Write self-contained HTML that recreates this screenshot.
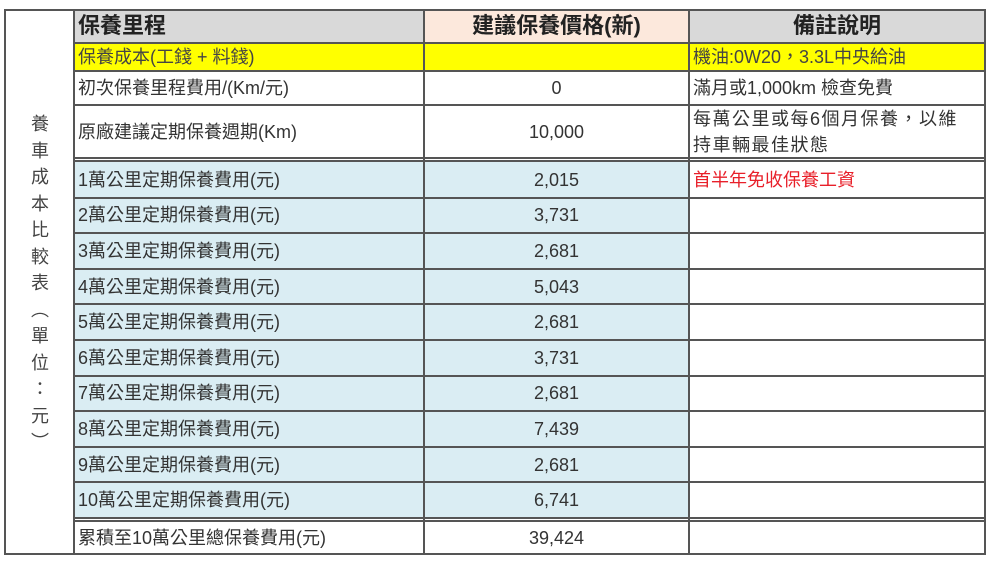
<!DOCTYPE html>
<html><head><meta charset="utf-8"><style>
body{margin:0;width:990px;height:564px;background:#fff;position:relative;overflow:hidden;font-family:"Liberation Sans","Noto Sans CJK TC",sans-serif;color:#333}
.c{position:absolute;box-sizing:border-box;font-size:18px;line-height:20px;display:flex;align-items:center;padding-left:4px;white-space:nowrap}
.ctr{justify-content:center;padding-left:0}
.h{font-size:22px;font-weight:bold;color:#222}
.l{position:absolute;background:#555}
</style></head><body>
<div class="c h" style="left:74px;top:9px;width:350px;height:34px;background:#d9d9d9">保養里程</div>
<div class="c h ctr" style="left:424px;top:9px;width:265px;height:34px;background:#fce8dc">建議保養價格(新)</div>
<div class="c h ctr" style="left:689px;top:9px;width:296px;height:34px;background:#d9d9d9">備註說明</div>
<div class="c" style="left:74px;top:43px;width:911px;height:28px;background:#ffff00"></div>
<div class="c" style="left:74px;top:43px;width:350px;height:28px;color:#444">保養成本(工錢 + 料錢)</div>
<div class="c" style="left:689px;top:43px;width:296px;height:28px;color:#444">機油:0W20，3.3L中央給油</div>
<div class="c" style="left:74px;top:71px;width:350px;height:34px">初次保養里程費用/(Km/元)</div>
<div class="c ctr" style="left:424px;top:71px;width:265px;height:34px">0</div>
<div class="c" style="left:689px;top:71px;width:296px;height:34px">滿月或1,000km 檢查免費</div>
<div class="c" style="left:74px;top:105px;width:350px;height:53px">原廠建議定期保養週期(Km)</div>
<div class="c ctr" style="left:424px;top:105px;width:265px;height:53px">10,000</div>
<div class="c" style="left:689px;top:105px;width:296px;height:53px;line-height:26px;letter-spacing:1.5px">每萬公里或每6個月保養，以維<br>持車輛最佳狀態</div>
<div style="position:absolute;left:74px;top:161px;width:615px;height:357px;background:#daedf3"></div>
<div id="rows"></div>
<div class="c" style="left:689px;top:162px;width:296px;height:35px;color:#e8202a">首半年免收保養工資</div>
<div class="c" style="left:74px;top:521px;width:350px;height:33px">累積至10萬公里總保養費用(元)</div>
<div class="c ctr" style="left:424px;top:521px;width:265px;height:33px">39,424</div>
<div style="position:absolute;left:25px;top:111px;width:30px;text-align:center;font-size:18px;line-height:26.5px;color:#444">養<br>車<br>成<br>本<br>比<br>較<br>表<br>︵<br>單<br>位<br>：<br>元<br>︶</div>
<div class="l" style="left:4px;top:9px;width:981px;height:2px"></div>
<div class="l" style="left:4px;top:553px;width:981px;height:2px"></div>
<div class="l" style="left:4px;top:9px;width:2px;height:546px"></div>
<div class="l" style="left:984px;top:9px;width:2px;height:546px"></div>
<div class="l" style="left:73px;top:9px;width:2px;height:546px"></div>
<div class="l" style="left:423px;top:9px;width:2px;height:546px"></div>
<div class="l" style="left:688px;top:9px;width:2px;height:546px"></div>
<div class="l" style="left:74px;top:42px;width:911px;height:2px"></div>
<div class="l" style="left:74px;top:70px;width:911px;height:2px"></div>
<div class="l" style="left:74px;top:104px;width:911px;height:2px"></div>
<div class="l" style="left:74px;top:157px;width:911px;height:2px"></div>
<div class="l" style="left:74px;top:160px;width:911px;height:2px"></div>
<div class="l" style="left:74px;top:517px;width:911px;height:2px"></div>
<div class="l" style="left:74px;top:520px;width:911px;height:2px"></div>
<script>
var v=["2,015","3,731","2,681","5,043","2,681","3,731","2,681","7,439","2,681","6,741"],h="";
for(var i=0;i<10;i++){var t=162+i*35.6;
h+='<div class="c" style="left:74px;top:'+t+'px;width:350px;height:35.6px">'+(i+1)+'萬公里定期保養費用(元)</div>';
h+='<div class="c ctr" style="left:424px;top:'+t+'px;width:265px;height:35.6px">'+v[i]+'</div>';
if(i>0)h+='<div class="l" style="left:74px;top:'+(t-1)+'px;width:911px;height:2px"></div>';}
document.getElementById("rows").innerHTML=h;
</script>
</body></html>
